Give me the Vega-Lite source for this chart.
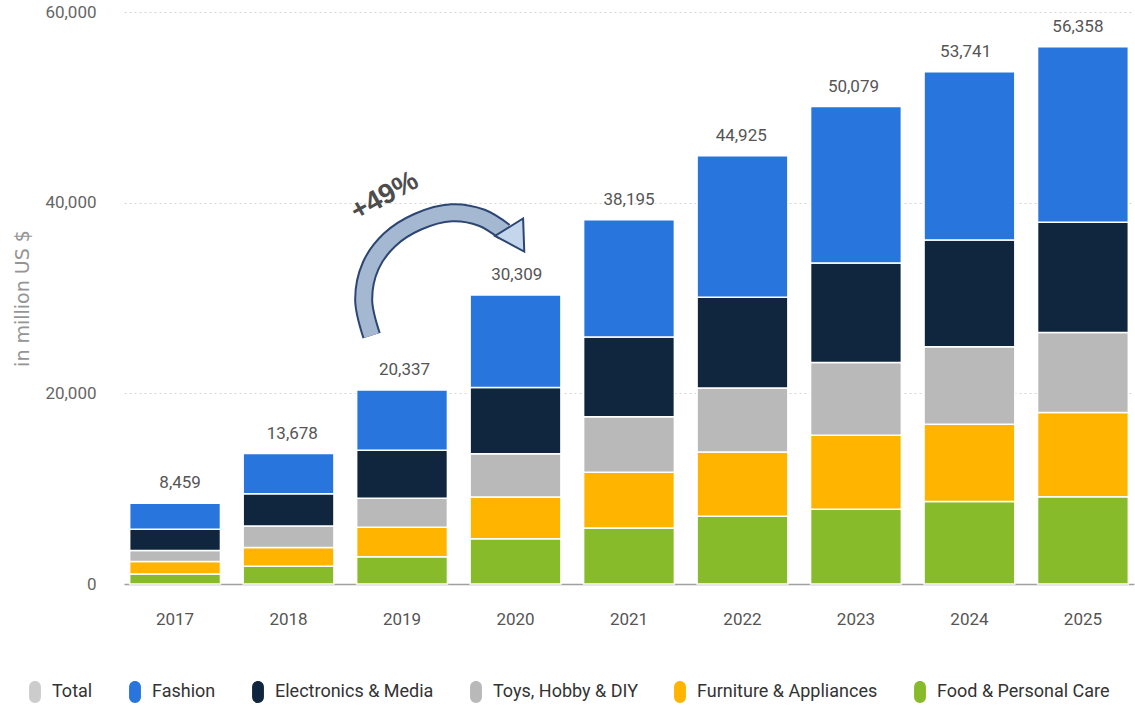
{
  "$schema": "https://vega.github.io/schema/vega-lite/v6.json",
  "width": 1010,
  "height": 572,
  "autosize": "none",
  "padding": {"left": 124, "top": 12, "right": 1, "bottom": 124},
  "background": "white",
  "config": {
    "view": {"stroke": null},
    "font": "Roboto, sans-serif",
    "axisY": {
      "grid": true, "gridColor": "#d4d4d4", "gridDash": [2, 3], "gridWidth": 1,
      "domain": false, "ticks": false, "tickCount": 3, "format": ",d",
      "labelFontSize": 17, "labelColor": "#666666", "labelPadding": 28,
      "titleFontSize": 19, "titleFont": "DejaVu Sans, sans-serif", "titleColor": "#959595", "titleFontWeight": "normal", "titlePadding": 12
    },
    "axisX": {
      "domain": true, "domainColor": "#a0a0a0", "domainWidth": 1.5, "ticks": false, "grid": false,
      "labelAngle": 0, "labelPadding": 27, "labelFontSize": 17, "labelColor": "#555555"
    }
  },
  "datasets": {
    "seg": [
      {"year": "2017", "category": "Food & Personal Care", "value": 1057},
      {"year": "2017", "category": "Furniture & Appliances", "value": 1304},
      {"year": "2017", "category": "Toys, Hobby & DIY", "value": 1163},
      {"year": "2017", "category": "Electronics & Media", "value": 2220},
      {"year": "2017", "category": "Fashion", "value": 2715},
      {"year": "2018", "category": "Food & Personal Care", "value": 1857},
      {"year": "2018", "category": "Furniture & Appliances", "value": 1964},
      {"year": "2018", "category": "Toys, Hobby & DIY", "value": 2250},
      {"year": "2018", "category": "Electronics & Media", "value": 3393},
      {"year": "2018", "category": "Fashion", "value": 4214},
      {"year": "2019", "category": "Food & Personal Care", "value": 2857},
      {"year": "2019", "category": "Furniture & Appliances", "value": 3107},
      {"year": "2019", "category": "Toys, Hobby & DIY", "value": 3035},
      {"year": "2019", "category": "Electronics & Media", "value": 5035},
      {"year": "2019", "category": "Fashion", "value": 6303},
      {"year": "2020", "category": "Food & Personal Care", "value": 4758},
      {"year": "2020", "category": "Furniture & Appliances", "value": 4370},
      {"year": "2020", "category": "Toys, Hobby & DIY", "value": 4546},
      {"year": "2020", "category": "Electronics & Media", "value": 6943},
      {"year": "2020", "category": "Fashion", "value": 9692},
      {"year": "2021", "category": "Food & Personal Care", "value": 5885},
      {"year": "2021", "category": "Furniture & Appliances", "value": 5850},
      {"year": "2021", "category": "Toys, Hobby & DIY", "value": 5815},
      {"year": "2021", "category": "Electronics & Media", "value": 8352},
      {"year": "2021", "category": "Fashion", "value": 12293},
      {"year": "2022", "category": "Food & Personal Care", "value": 7114},
      {"year": "2022", "category": "Furniture & Appliances", "value": 6728},
      {"year": "2022", "category": "Toys, Hobby & DIY", "value": 6728},
      {"year": "2022", "category": "Electronics & Media", "value": 9497},
      {"year": "2022", "category": "Fashion", "value": 14858},
      {"year": "2023", "category": "Food & Personal Care", "value": 7837},
      {"year": "2023", "category": "Furniture & Appliances", "value": 7760},
      {"year": "2023", "category": "Toys, Hobby & DIY", "value": 7650},
      {"year": "2023", "category": "Electronics & Media", "value": 10430},
      {"year": "2023", "category": "Fashion", "value": 16402},
      {"year": "2024", "category": "Food & Personal Care", "value": 8652},
      {"year": "2024", "category": "Furniture & Appliances", "value": 8118},
      {"year": "2024", "category": "Toys, Hobby & DIY", "value": 8118},
      {"year": "2024", "category": "Electronics & Media", "value": 11206},
      {"year": "2024", "category": "Fashion", "value": 17647},
      {"year": "2025", "category": "Food & Personal Care", "value": 9151},
      {"year": "2025", "category": "Furniture & Appliances", "value": 8846},
      {"year": "2025", "category": "Toys, Hobby & DIY", "value": 8389},
      {"year": "2025", "category": "Electronics & Media", "value": 11554},
      {"year": "2025", "category": "Fashion", "value": 18418}
    ],
    "arrow": [
      {"ax": 2018.632, "ay": 26048, "k": 0},
      {"ax": 2018.562, "ay": 29822, "k": 1},
      {"ax": 2018.624, "ay": 33386, "k": 2},
      {"ax": 2018.791, "ay": 36111, "k": 3},
      {"ax": 2019.038, "ay": 37998, "k": 4},
      {"ax": 2019.337, "ay": 38941, "k": 5},
      {"ax": 2019.602, "ay": 38417, "k": 6},
      {"ax": 2019.804, "ay": 36950, "k": 7}
    ],
    "arrowhead": [{"ax": 2019.91, "ay": 36150}],
    "note": [{"ax": 2018.747, "ay": 40650, "label": "+49%"}]
  },
  "layer": [
    {
      "data": {"name": "seg"},
      "transform": [
        {"calculate": "indexof(['Food & Personal Care','Furniture & Appliances','Toys, Hobby & DIY','Electronics & Media','Fashion'], datum.category)", "as": "stackorder"}
      ],
      "mark": {"type": "bar", "stroke": "white", "strokeWidth": 1.5},
      "encoding": {
        "x": {"field": "year", "type": "nominal", "title": null,
              "scale": {"paddingInner": 0.2, "paddingOuter": 0.05}},
        "y": {"field": "value", "type": "quantitative", "aggregate": "sum", "stack": "zero",
              "title": "in million US $",
              "scale": {"domain": [0, 60000], "nice": false},
              "axis": {"format": ",d", "tickCount": 3}},
        "color": {
          "field": "category", "type": "nominal",
          "scale": {
            "domain": ["Total", "Fashion", "Electronics & Media", "Toys, Hobby & DIY", "Furniture & Appliances", "Food & Personal Care"],
            "range": ["#cccccc", "#2876dd", "#10263e", "#b9b9b9", "#ffb400", "#88bb2a"]
          },
          "legend": {
            "orient": "none", "legendX": -100, "legendY": 669,
            "direction": "horizontal", "columns": 6, "title": null, "padding": 0,
            "symbolType": "M-0.54,-0.46 A0.54,0.54 0 0 1 0.54,-0.46 L0.54,0.46 A0.54,0.54 0 0 1 -0.54,0.46 Z",
            "symbolSize": 484, "symbolStrokeWidth": 0, "symbolOpacity": 1,
            "labelFontSize": 18, "labelColor": "#333333", "labelOffset": 6, "labelLimit": 300,
            "columnPadding": 31,
            "encode": {"labels": {"update": {"fill": {"signal": "datum.label === 'Total' ? '#c4c4c4' : '#333333'"}}}}
          }
        },
        "order": {"field": "stackorder", "type": "quantitative"}
      }
    },
    {
      "data": {"name": "seg"},
      "transform": [
        {"aggregate": [{"op": "sum", "field": "value", "as": "total"}], "groupby": ["year"]}
      ],
      "mark": {"type": "text", "baseline": "bottom", "dy": -11, "fontSize": 17, "color": "#555555"},
      "encoding": {
        "x": {"field": "year", "type": "nominal", "axis": null,
              "scale": {"paddingInner": 0.2, "paddingOuter": 0.05}},
        "y": {"field": "total", "type": "quantitative", "title": "in million US $"},
        "text": {"field": "total", "type": "quantitative", "format": ","}
      }
    },
    {
      "data": {"name": "arrow"},
      "mark": {"type": "line", "interpolate": "catmull-rom", "color": "#2c4673", "strokeWidth": 19, "strokeCap": "butt"},
      "encoding": {
        "x": {"field": "ax", "type": "quantitative", "axis": null, "scale": {"domain": [2016.45, 2025.35], "nice": false, "zero": false}},
        "y": {"field": "ay", "type": "quantitative", "title": "in million US $"},
        "order": {"field": "k", "type": "quantitative"}
      }
    },
    {
      "data": {"name": "arrow"},
      "mark": {"type": "line", "interpolate": "catmull-rom", "color": "#a4b8d1", "strokeWidth": 15, "strokeCap": "butt"},
      "encoding": {
        "x": {"field": "ax", "type": "quantitative", "axis": null, "scale": {"domain": [2016.45, 2025.35], "nice": false, "zero": false}},
        "y": {"field": "ay", "type": "quantitative", "title": "in million US $"},
        "order": {"field": "k", "type": "quantitative"}
      }
    },
    {
      "data": {"name": "arrowhead"},
      "mark": {"type": "point", "shape": "triangle-right", "angle": 58, "size": 1100, "filled": true, "fill": "#c3d6ec", "stroke": "#2c4673", "strokeWidth": 2, "opacity": 1},
      "encoding": {
        "x": {"field": "ax", "type": "quantitative", "axis": null, "scale": {"domain": [2016.45, 2025.35], "nice": false, "zero": false}},
        "y": {"field": "ay", "type": "quantitative", "title": "in million US $"}
      }
    },
    {
      "data": {"name": "note"},
      "mark": {"type": "text", "angle": -29, "fontSize": 28, "fontWeight": "bold", "font": "Liberation Sans, Arial, sans-serif", "color": "#4d4d4d", "align": "center", "baseline": "middle"},
      "encoding": {
        "x": {"field": "ax", "type": "quantitative", "axis": null, "scale": {"domain": [2016.45, 2025.35], "nice": false, "zero": false}},
        "y": {"field": "ay", "type": "quantitative", "title": "in million US $"},
        "text": {"field": "label", "type": "nominal"}
      }
    }
  ],
  "resolve": {"scale": {"x": "independent"}}
}
